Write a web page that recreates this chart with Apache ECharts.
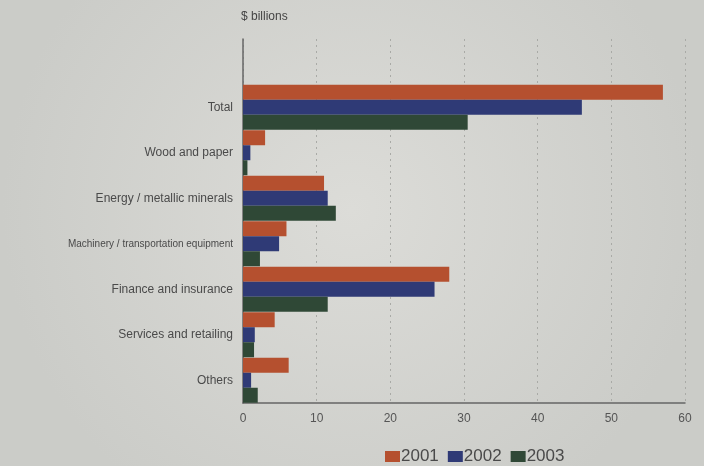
<!DOCTYPE html>
<html><head><meta charset="utf-8">
<script src="https://cdn.jsdelivr.net/npm/echarts@6/dist/echarts.min.js"></script>
<style>html,body{margin:0;padding:0;}#c{width:704px;height:466px;}</style>
</head><body><div id="c"></div>
<script>
var categories = ['', 'Total', 'Wood and paper', 'Energy / metallic minerals', 'Machinery / transportation equipment', 'Finance and insurance', 'Services and retailing', 'Others'];
var years = ['2001', '2002', '2003'];
var v2001 = [null, 57, 3, 11, 5.9, 28, 4.3, 6.2];
var v2002 = [null, 46, 1, 11.5, 4.9, 26, 1.6, 1.1];
var v2003 = [null, 30.5, 0.6, 12.6, 2.3, 11.5, 1.5, 2];
var xTicks = [0, 10, 20, 30, 40, 50, 60];

var colors = ['#b5502f', '#2f3a76', '#2f4836'];
var chart = echarts.init(document.getElementById('c'));
var seriesData = [v2001, v2002, v2003];
chart.setOption({
  backgroundColor: {type:'radial', x:0.5, y:0.45, r:0.75, colorStops:[{offset:0,color:'#dcdcd8'},{offset:1,color:'#cbccc8'}]},
  animation: false,
  color: colors,
  textStyle: {fontFamily: 'Liberation Sans, Arial, sans-serif'},
  grid: {left: 243, right: 19, top: 39, bottom: 63, containLabel: false},
  legend: {
    bottom: -4, left: 380, itemWidth: 15, itemHeight: 11, itemGap: 9,
    textStyle: {fontSize: 17, color: '#4a4a4a', padding: [0,0,0,-4]},
    data: years, icon: 'rect'
  },
  xAxis: {
    type: 'value', min: xTicks[0], max: xTicks[xTicks.length-1], interval: 10,
    axisLine: {show: true, lineStyle: {color: '#666', width: 1.5}},
    axisTick: {show: false},
    axisLabel: {color: '#555', fontSize: 12, margin: 10},
    splitLine: {show: true, lineStyle: {color: '#a9aaa6', type: [2,4], width: 1}}
  },
  yAxis: {
    type: 'category', inverse: true, data: categories,
    name: '$ billions', nameLocation: 'start', nameGap: 16,
    nameTextStyle: {color: '#444', fontSize: 12, align: 'left', padding: [0,0,0,-2]},
    axisLine: {show: true, onZero: false, lineStyle: {color: '#666', width: 1.5}},
    axisTick: {show: false},
    axisLabel: {
      color: '#4a4a4a', fontSize: 12, margin: 10,
      formatter: function(v){ return v.indexOf('Machinery') === 0 ? '{s|' + v + '}' : v; },
      rich: {s: {fontSize: 10, color: '#4a4a4a'}}
    }
  },
  series: years.map(function(y, i){
    return {name: y, type: 'bar', data: seriesData[i], barWidth: 15, barGap: '0%', barCategoryGap: '4%',
      itemStyle: {color: colors[i]}};
  })
});
</script></body></html>
